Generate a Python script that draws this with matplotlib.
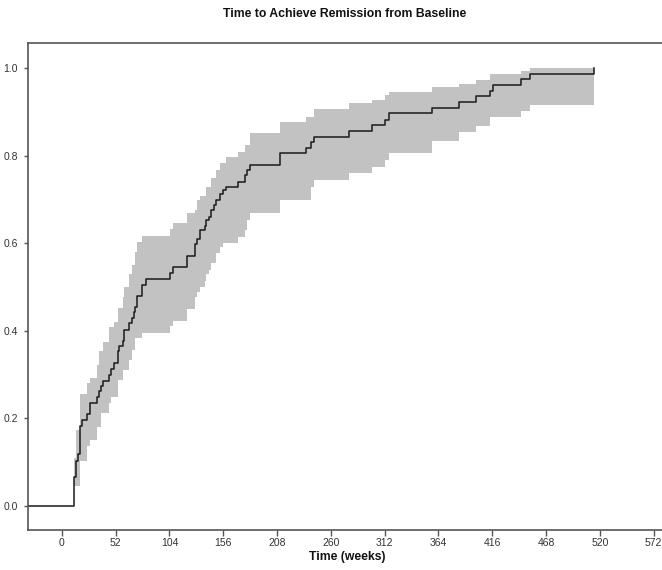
import matplotlib

matplotlib.use("agg")

import matplotlib.pyplot as plt

# Kaplan-Meier style "1 - survival" data
weeks = [11.6, 13.6, 15.2, 17.2, 19.4, 24.5, 27.2, 34.2, 35.9, 37.8,
         40.1, 45.6, 47.5, 50.4, 54.6, 55.6, 58.9, 60.1, 65.0, 67.6,
         69.8, 71.1, 73.0, 77.3, 81.2, 104.8, 107.0, 121.0, 128.3, 130.6,
         133.2, 138.0, 139.4, 142.3, 144.5, 146.7, 149.1, 153.2, 155.9, 159.1,
         170.0, 177.5, 179.1, 181.4, 210.6, 235.7, 240.5, 243.7, 277.6, 299.4,
         312.6, 316.2, 358.2, 383.9, 400.7, 414.2, 416.7, 444.2, 452.2, 514.0]
remission = [0.066, 0.103, 0.119, 0.183, 0.196, 0.210, 0.236, 0.250, 0.263, 0.275,
             0.286, 0.300, 0.313, 0.326, 0.353, 0.366, 0.377, 0.402, 0.417, 0.429,
             0.444, 0.455, 0.480, 0.506, 0.519, 0.532, 0.545, 0.571, 0.599, 0.611,
             0.630, 0.640, 0.653, 0.661, 0.676, 0.688, 0.699, 0.713, 0.722, 0.729,
             0.741, 0.756, 0.768, 0.779, 0.806, 0.819, 0.832, 0.844, 0.857, 0.870,
             0.883, 0.897, 0.910, 0.924, 0.937, 0.949, 0.962, 0.975, 0.988, 1.000]
ci_lower = [0.046, 0.046, 0.046, 0.103, 0.103, 0.137, 0.151, 0.181, 0.181, 0.213,
            0.213, 0.235, 0.250, 0.250, 0.288, 0.288, 0.311, 0.311, 0.334, 0.356,
            0.356, 0.383, 0.383, 0.396, 0.396, 0.411, 0.423, 0.449, 0.478, 0.490,
            0.500, 0.515, 0.530, 0.539, 0.555, 0.555, 0.579, 0.592, 0.600, 0.600,
            0.615, 0.630, 0.653, 0.669, 0.700, 0.700, 0.729, 0.745, 0.760, 0.775,
            0.790, 0.806, 0.835, 0.855, 0.868, 0.889, 0.889, 0.903, 0.916, 0.916]
ci_upper = [0.110, 0.174, 0.174, 0.256, 0.256, 0.281, 0.292, 0.322, 0.353, 0.353,
            0.375, 0.410, 0.410, 0.421, 0.453, 0.453, 0.478, 0.501, 0.529, 0.551,
            0.551, 0.581, 0.604, 0.617, 0.617, 0.632, 0.646, 0.669, 0.676, 0.699,
            0.708, 0.708, 0.729, 0.729, 0.749, 0.749, 0.768, 0.783, 0.783, 0.798,
            0.809, 0.825, 0.825, 0.852, 0.878, 0.889, 0.889, 0.906, 0.920, 0.928,
            0.939, 0.947, 0.957, 0.964, 0.973, 0.987, 0.987, 0.995, 1.000, 1.000]

x_ticks = [0, 52, 104, 156, 208, 260, 312, 364, 416, 468, 520, 572]
y_ticks = [0.0, 0.2, 0.4, 0.6, 0.8, 1.0]
x_min, x_max = -33, 580

tick_font = ["Liberation Sans Narrow", "Liberation Sans", "DejaVu Sans"]
label_font = ["Liberation Sans", "DejaVu Sans"]

fig = plt.figure(figsize=(6.62, 5.70), dpi=100)
ax = fig.add_axes([0.0418, 0.0702, 0.9582, 0.8544])

# confidence band
ax.fill_between(weeks, ci_lower, ci_upper, step="post",
                color="#c2c2c2", linewidth=0)

# cumulative remission curve, flat at zero from the left edge
ax.step([x_min] + weeks, [0.0] + remission, where="post",
        color="#1a1a1a", linewidth=1.1)

ax.set_xlim(x_min, x_max)
ax.set_ylim(-0.055, 1.058)
ax.set_xticks(x_ticks)
ax.set_yticks(y_ticks)
ax.set_xticklabels([str(t) for t in x_ticks])
ax.set_yticklabels([f"{v:.1f}" for v in y_ticks])

for side in ["left", "bottom", "top"]:
    ax.spines[side].set_color("#555555")
    ax.spines[side].set_linewidth(1.2)
ax.spines["right"].set_visible(False)

ax.tick_params(axis="x", direction="out", length=4, width=1, color="#555555",
               pad=2, labelsize=7.5, labelcolor="#333333")
ax.tick_params(axis="y", direction="out", length=3, width=1, color="#555555",
               pad=4, labelsize=7.5, labelcolor="#333333")
for lbl in ax.get_xticklabels() + ax.get_yticklabels():
    lbl.set_family(tick_font)

fig.text(345 / 662, 1 - 14 / 570, "Time to Achieve Remission from Baseline",
         ha="center", va="center", fontsize=8.8, fontweight="bold",
         family=label_font, color="#111111")
fig.text(347 / 662, 1 - 557 / 570, "Time (weeks)",
         ha="center", va="center", fontsize=8.8, fontweight="bold",
         family=label_font, color="#111111")

fig.savefig("out.png", dpi=100)
